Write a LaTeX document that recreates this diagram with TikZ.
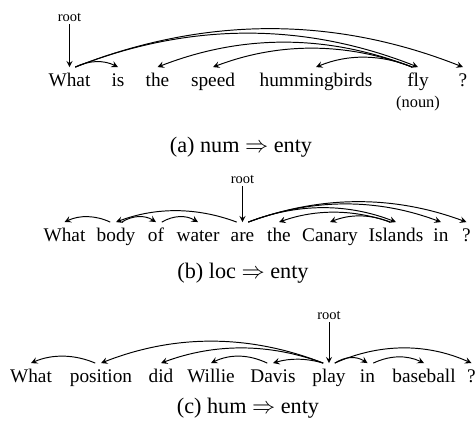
\documentclass[tikz,border=0pt]{standalone}
\usepackage{fontspec}
\setmainfont{Liberation Serif}
\usetikzlibrary{arrows}
\tikzstyle{word} = [anchor=base, inner xsep=1pt, inner ysep=1pt, text height=8.6pt, text depth=2.2pt, font=\fontsize{10}{12}\selectfont]
\tikzstyle{rootlabel} = [anchor=south, inner sep=1pt, font=\fontsize{7.5}{9}\selectfont]
\tikzstyle{tag} = [anchor=base, inner sep=0pt, font=\fontsize{8.5}{10}\selectfont]
\tikzstyle{caption} = [anchor=base, inner sep=0pt, font=\fontsize{11.5}{13}\selectfont]
\tikzstyle{arrow} = [thin,->,>=stealth]
\tikzstyle{arc} = [line width=0.5pt,->,>=stealth]

\begin{document}
\begin{tikzpicture}[x=0.518pt, y=-0.518pt]
\useasboundingbox (0, 0) rectangle (476, 428);

% (a)
\node at (69.5, 86) (what1) [word] {What};
\node at (118, 86) (is1) [word] {is};
\node at (157.5, 86) (the1) [word] {the};
\node at (213, 86) (speed1) [word] {speed};
\node at (316, 86) (birds1) [word] {hummingbirds};
\node at (418, 86) (fly1) [word] {fly};
\node at (463, 86) (q1) [word] {?};
\node at (418, 107) (noun1) [tag] {(noun)};
\node at (69.5, 24) (root1) [rootlabel] {root};
\node at (241, 152) (cap1) [caption] {(a) num $\Rightarrow$ enty};

\draw [arrow] (root1) -- (what1);
\draw [arc] ([xshift=3pt]what1.north) .. controls +(14, -7) and +(-14, -7) .. (is1.north);
\draw [arc] ([xshift=3pt]what1.north) .. controls +(114, -45) and +(-114, -45) .. (fly1.north);
\draw [arc] ([xshift=3pt]what1.north) .. controls +(129, -51) and +(-129, -51) .. (q1.north);
\draw [arc] ([xshift=-3pt]fly1.north) .. controls +(-85, -33) and +(85, -33) .. (the1.north);
\draw [arc] ([xshift=-3pt]fly1.north) .. controls +(-66, -25) and +(66, -25) .. (speed1.north);
\draw [arc] ([xshift=-3pt]fly1.north) .. controls +(-32, -13) and +(32, -13) .. (birds1.north);

% (b)
\node at (64.5, 241) (what2) [word] {What};
\node at (116, 241) (body2) [word] {body};
\node at (156, 241) (of2) [word] {of};
\node at (198, 241) (water2) [word] {water};
\node at (242.5, 241) (are2) [word] {are};
\node at (279, 241) (the2) [word] {the};
\node at (330, 241) (canary2) [word] {Canary};
\node at (396, 241) (islands2) [word] {Islands};
\node at (441, 241) (in2) [word] {in};
\node at (466.5, 241) (q2) [word] {?};
\node at (242.5, 186) (root2) [rootlabel] {root};
\node at (243, 278) (cap2) [caption] {(b) loc $\Rightarrow$ enty};

\draw [arrow] (root2) -- (are2);
\draw [arc] ([xshift=-3pt]body2.north) .. controls +(-15, -7) and +(15, -7) .. (what2.north);
\draw [arc] ([xshift=-3pt]are2.north) .. controls +(-40, -15) and +(40, -15) .. (body2.north);
\draw [arc] ([xshift=3pt]body2.north) .. controls +(11, -7) and +(-11, -7) .. (of2.north);
\draw [arc] ([xshift=3pt]of2.north) .. controls +(12, -7) and +(-12, -7) .. (water2.north);
\draw [arc] ([xshift=3pt]are2.north) .. controls +(49, -19) and +(-49, -19) .. (islands2.north);
\draw [arc] ([xshift=-3pt]islands2.north) .. controls +(-37, -13) and +(37, -13) .. (the2.north);
\draw [arc] ([xshift=-3pt]islands2.north) .. controls +(-20, -8) and +(20, -8) .. (canary2.north);
\draw [arc] ([xshift=3pt]are2.north) .. controls +(64, -24) and +(-64, -24) .. (in2.north);
\draw [arc] ([xshift=3pt]are2.north) .. controls +(73, -27) and +(-73, -27) .. (q2.north);

% (c)
\node at (31, 382) (what3) [word] {What};
\node at (101, 382) (position3) [word] {position};
\node at (161, 382) (did3) [word] {did};
\node at (211, 382) (willie3) [word] {Willie};
\node at (273, 382) (davis3) [word] {Davis};
\node at (329, 382) (play3) [word] {play};
\node at (367.5, 382) (in3) [word] {in};
\node at (424, 382) (baseball3) [word] {baseball};
\node at (471.5, 382) (q3) [word] {?};
\node at (329, 322) (root3) [rootlabel] {root};
\node at (248, 413) (cap3) [caption] {(c) hum $\Rightarrow$ enty};

\draw [arrow] (root3) -- (play3);
\draw [arc] ([xshift=-3pt]position3.north) .. controls +(-21, -9) and +(21, -9) .. (what3.north);
\draw [arc] ([xshift=-3pt]play3.north) .. controls +(-74, -29) and +(74, -29) .. (position3.north);
\draw [arc] ([xshift=-3pt]play3.north) .. controls +(-54, -20) and +(54, -20) .. (did3.north);
\draw [arc] ([xshift=-3pt]davis3.north) .. controls +(-19, -9) and +(19, -9) .. (willie3.north);
\draw [arc] ([xshift=-3pt]play3.north) .. controls +(-17, -5) and +(17, -5) .. (davis3.north);
\draw [arc] ([xshift=3pt]play3.north) .. controls +(11, -7) and +(-11, -7) .. (in3.north);
\draw [arc] ([xshift=3pt]in3.north) .. controls +(17, -8) and +(-17, -8) .. (baseball3.north);
\draw [arc] ([xshift=3pt]play3.north) .. controls +(45, -20) and +(-45, -20) .. (q3.north);

\end{tikzpicture}
\end{document}
